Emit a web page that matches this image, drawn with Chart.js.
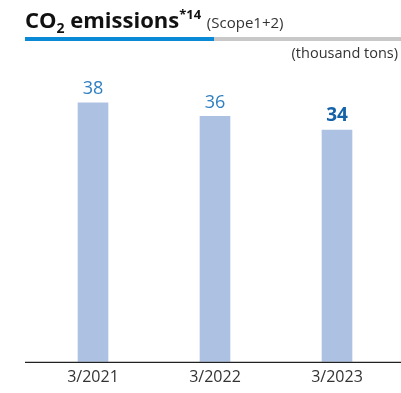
<!DOCTYPE html>
<html>
<head>
<meta charset="utf-8">
<script src="https://cdn.jsdelivr.net/npm/chart.js@4/dist/chart.umd.min.js"></script>
<style>
  html, body { margin: 0; padding: 0; background: #fff; }
  body { width: 401px; height: 393px; position: relative; overflow: hidden; font-family: "Open Sans", sans-serif; }
  #title { position: absolute; left: 25px; top: 4px; font-size: 22px; font-weight: 700; color: #111; white-space: nowrap; letter-spacing: 0; }
  #title sub { font-size: 14px; vertical-align: -5px; line-height: 0; }
  #title sup { font-size: 13px; vertical-align: 9px; line-height: 0; }
  #title .scope { font-size: 15px; font-weight: 400; color: #333; letter-spacing: 0; }
  #bar-blue { position: absolute; left: 25px; top: 37px; width: 189px; height: 4px; background: #0a8ad6; }
  #bar-gray { position: absolute; left: 214px; top: 37px; width: 187px; height: 4px; background: #c8c8c8; }
  #unit { position: absolute; right: 3px; top: 43px; font-size: 14.5px; color: #333; letter-spacing: 0; }
  #wrap { position: absolute; left: 0; top: 0; width: 401px; height: 398px; }
</style>
</head>
<body>
<div id="wrap"><canvas id="myChart"></canvas></div>
<div id="title">CO<sub>2</sub> emissions<sup>*14</sup> <span class="scope">(Scope1+2)</span></div>
<div id="bar-blue"></div>
<div id="bar-gray"></div>
<div id="unit">(thousand tons)</div>
<script>
const categories = ["3/2021", "3/2022", "3/2023"];
const emissions = [38, 36, 34];
const highlightIndex = 2;

const valueLabels = {
    id: 'valueLabels',
    afterDatasetsDraw(chart) {
        const ctx = chart.ctx;
        const meta = chart.getDatasetMeta(0);
        ctx.save();
        ctx.textAlign = 'center';
        ctx.textBaseline = 'middle';
        meta.data.forEach((bar, i) => {
            if (i === highlightIndex) {
                ctx.font = 'bold 19px "Open Sans"';
                ctx.fillStyle = '#1662a9';
            } else {
                ctx.font = '18px "Open Sans"';
                ctx.fillStyle = '#2f7fc1';
            }
            ctx.fillText(emissions[i], bar.x, bar.y - 14);
        });
        // baseline
        const y = chart.chartArea.bottom + 0.5;
        ctx.strokeStyle = '#222';
        ctx.lineWidth = 1.2;
        ctx.beginPath();
        ctx.moveTo(25, y);
        ctx.lineTo(401, y);
        ctx.stroke();
        ctx.restore();
    }
};

new Chart(document.getElementById('myChart'), {
    type: 'bar',
    data: {
        labels: categories,
        datasets: [{
            data: emissions,
            backgroundColor: '#adc2e3',
            barThickness: 30
        }]
    },
    options: {
        responsive: true,
        maintainAspectRatio: false,
        animation: false,
        layout: { padding: { top: 21, bottom: 5, left: 32, right: 3 } },
        plugins: { legend: { display: false }, tooltip: { enabled: false } },
        scales: {
            x: {
                grid: { display: false, drawTicks: false },
                border: { display: false },
                ticks: { color: '#333', font: { family: 'Open Sans', size: 16 }, padding: 6 }
            },
            y: {
                display: false,
                min: 0,
                max: 50
            }
        }
    },
    plugins: [valueLabels]
});
</script>
</body>
</html>
